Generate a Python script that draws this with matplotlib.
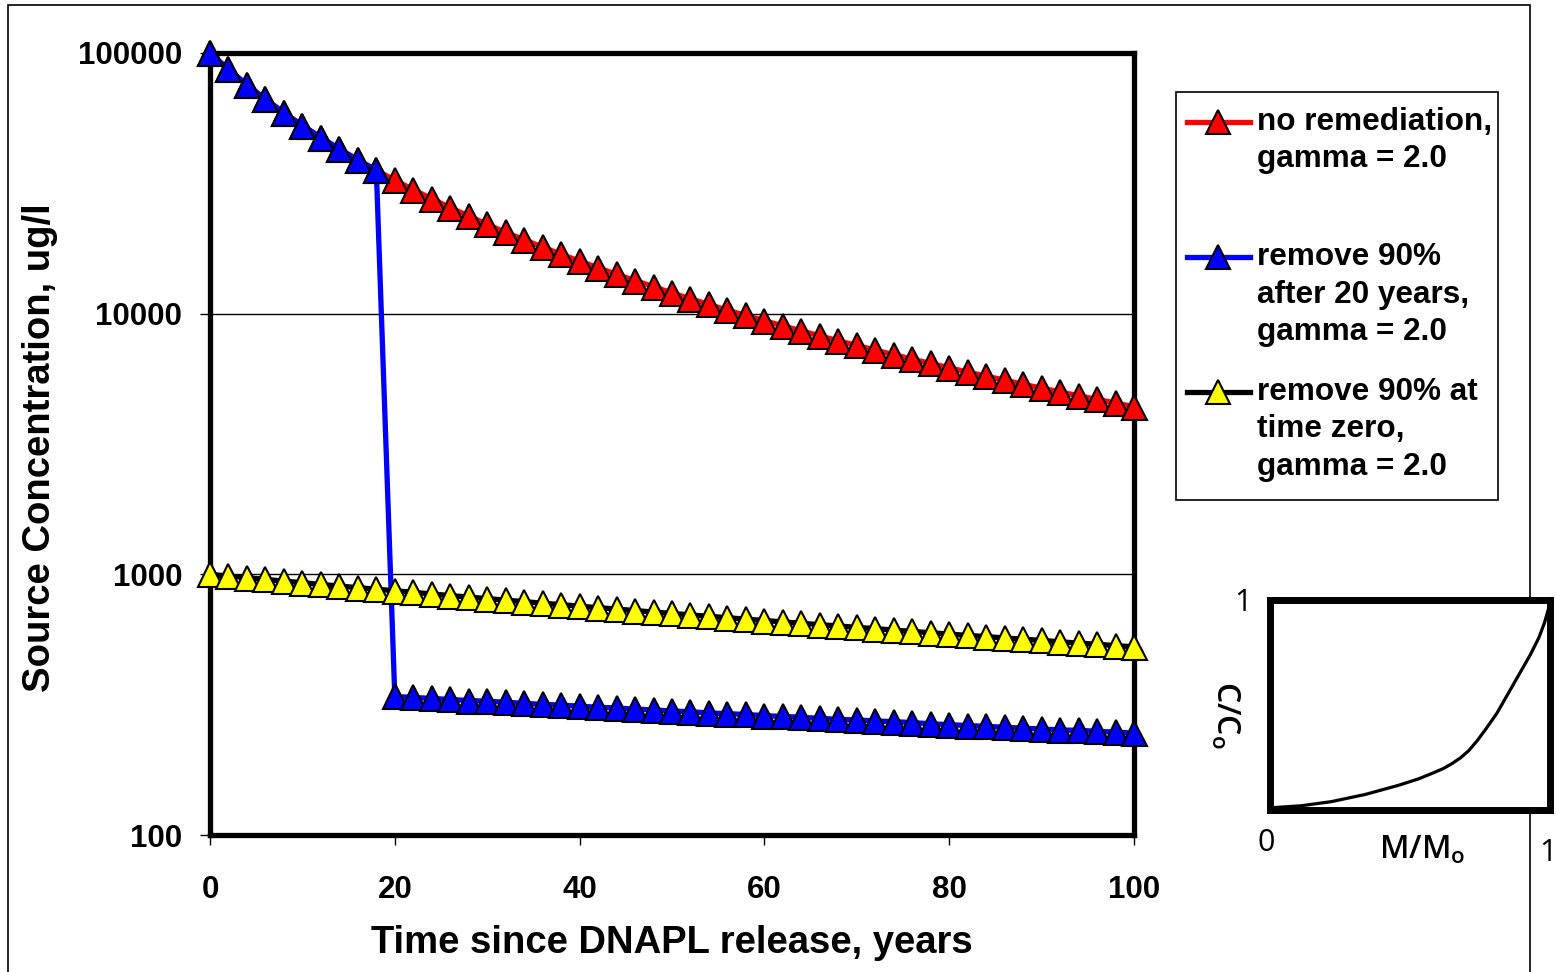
import matplotlib
matplotlib.use("Agg")
import matplotlib.pyplot as plt
from matplotlib.lines import Line2D
from matplotlib.patches import Rectangle
from matplotlib.ticker import NullLocator

# time axis, years (one point every 2 years)
years = [0, 2, 4, 6, 8, 10, 12, 14, 16, 18, 20, 22, 24, 26, 28, 30, 32, 34,
         36, 38, 40, 42, 44, 46, 48, 50, 52, 54, 56, 58, 60, 62, 64, 66, 68,
         70, 72, 74, 76, 78, 80, 82, 84, 86, 88, 90, 92, 94, 96, 98, 100]

# source concentration, ug/l
no_remediation = [100000, 86500, 75500, 66500, 59000, 52700, 47400, 42800,
                  38900, 35500, 32500, 29900, 27600, 25500, 23700, 22000,
                  20500, 19200, 18000, 16900, 15900, 15000, 14150, 13400,
                  12700, 12000, 11400, 10850, 10300, 9850, 9400, 8980, 8590,
                  8220, 7870, 7550, 7250, 6960, 6690, 6440, 6200, 5970, 5760,
                  5560, 5360, 5180, 5010, 4840, 4690, 4540, 4400]

remove_after_20 = [100000, 86500, 75500, 66500, 59000, 52700, 47400, 42800,
                   38900, 35500, 340, 337, 334, 331, 328, 326, 323, 320, 317,
                   315, 312, 309, 307, 304, 302, 299, 297, 294, 292, 290, 287,
                   285, 283, 280, 278, 276, 274, 272, 270, 267, 265, 263, 261,
                   259, 257, 255, 253, 252, 250, 248, 246]

remove_at_zero = [1000, 985, 971, 956, 942, 929, 915, 902, 889, 877, 865, 853,
                  841, 829, 818, 807, 796, 786, 775, 765, 755, 745, 736, 726,
                  717, 708, 699, 690, 682, 673, 665, 657, 649, 641, 634, 626,
                  619, 611, 604, 597, 590, 583, 577, 570, 564, 558, 551, 545,
                  539, 533, 527]

labels = ["no remediation,\ngamma = 2.0",
          "remove 90%\nafter 20 years,\ngamma = 2.0",
          "remove 90% at\ntime zero,\ngamma = 2.0"]
line_colors = ["#FF0000", "#0000FF", "#000000"]
marker_colors = ["#FF0000", "#0000FF", "#FFFF00"]

# inset sketch: C/Co versus M/Mo
mass_frac = [0.0, 0.03, 0.11, 0.22, 0.34, 0.46, 0.53, 0.58, 0.62, 0.65, 0.68,
             0.71, 0.74, 0.77, 0.81, 0.87, 0.93, 0.96, 0.98, 0.995, 1.0]
conc_frac = [0.01, 0.013, 0.02, 0.04, 0.074, 0.118, 0.148, 0.175, 0.198,
             0.221, 0.248, 0.283, 0.33, 0.384, 0.46, 0.6, 0.74, 0.82, 0.89,
             0.96, 1.0]

plt.rcParams['font.family'] = ['Liberation Sans', 'DejaVu Sans']
plt.rcParams['font.weight'] = 'bold'

W, H = 1556, 972
fig = plt.figure(figsize=(W / 100, H / 100), dpi=100)


def fx(px):
    return px / W


def fy(py):
    return 1 - py / H


# thin outer chart border
fig.add_artist(Rectangle((fx(8), fy(1010)), fx(1530) - fx(8), fy(5) - fy(1010),
                         transform=fig.transFigure, fill=False, lw=1.2,
                         ec='black', zorder=0))

ax = fig.add_axes([fx(210), fy(835), fx(1134) - fx(210), fy(53) - fy(835)])
ax.set_yscale('log')

series = [no_remediation, remove_after_20, remove_at_zero]
for vals, lc, mc in zip(series, line_colors, marker_colors):
    ax.plot(years, vals, color=lc, lw=3.8, marker='^', markersize=18,
            markerfacecolor=mc, markeredgecolor='black', markeredgewidth=1.5,
            clip_on=False, zorder=3)

ax.set_xlim(0, 100)
ax.set_ylim(100, 100000)
ax.set_xticks([0, 20, 40, 60, 80, 100])
ax.set_yticks([100, 1000, 10000, 100000])
ax.set_yticklabels(['100', '1000', '10000', '100000'])
ax.yaxis.set_minor_locator(NullLocator())
ax.tick_params(axis='x', length=7, width=1, pad=22, labelsize=22.5)
ax.tick_params(axis='y', length=7, width=1, pad=13, labelsize=22.5)
ax.yaxis.grid(True, color='black', lw=1)
ax.set_axisbelow(True)
for sp in ax.spines.values():
    sp.set_linewidth(3.8)

fig.text(fx(672), fy(943), 'Time since DNAPL release, years', ha='center',
         va='center', fontsize=27.5, fontweight='bold')
fig.text(fx(40), fy(448), 'Source Concentration, ug/l', ha='center',
         va='center', rotation=90, fontsize=27.5, fontweight='bold')

# legend box drawn by hand so the sample sits on the first text line
fig.add_artist(Rectangle((fx(1176), fy(500)), fx(1498) - fx(1176),
                         fy(92) - fy(500), transform=fig.transFigure,
                         fill=False, lw=1.2, ec='black'))
entry_tops = [122, 257, 392]
for lab, lc, mc, y0 in zip(labels, line_colors, marker_colors, entry_tops):
    fig.add_artist(Line2D([fx(1187), fx(1250)], [fy(y0), fy(y0)],
                          transform=fig.transFigure, color=lc, lw=3.8))
    fig.add_artist(Line2D([fx(1218)], [fy(y0)], transform=fig.transFigure,
                          marker='^', markersize=17, markerfacecolor=mc,
                          markeredgecolor='black', markeredgewidth=1.5))
    for i, line in enumerate(lab.split('\n')):
        fig.text(fx(1257), fy(y0 + 37.5 * i), line, ha='left', va='center',
                 fontsize=22.7, fontweight='bold')

# inset sketch
ax2 = fig.add_axes([fx(1270), fy(810), fx(1550) - fx(1270), fy(600) - fy(810)])
ax2.set_facecolor('white')
ax2.plot(mass_frac, conc_frac, color='black', lw=2.3, clip_on=False)
ax2.set_xlim(0, 1)
ax2.set_ylim(0, 1)
ax2.set_xticks([])
ax2.set_yticks([])
for sp in ax2.spines.values():
    sp.set_linewidth(5)

inset_font = ['Open Sans', 'DejaVu Sans']
fig.text(fx(1243), fy(603), '1', ha='center', va='center', fontsize=22,
         family=inset_font, fontweight='normal')
fig.text(fx(1266), fy(843), '0', ha='center', va='center', fontsize=22,
         family=inset_font, fontweight='normal')
fig.text(fx(1548), fy(853), '1', ha='center', va='center', fontsize=22,
         family=inset_font, fontweight='normal')
fig.text(fx(1422), fy(850), r'M/M$_\mathregular{o}$', ha='center',
         va='center', fontsize=23, family=inset_font, fontweight='semibold')
fig.text(fx(1225), fy(715), r'C/C$_\mathregular{o}$', ha='center',
         va='center', rotation=-90, fontsize=23, family=inset_font,
         fontweight='semibold')

fig.savefig('out.png', dpi=100)
